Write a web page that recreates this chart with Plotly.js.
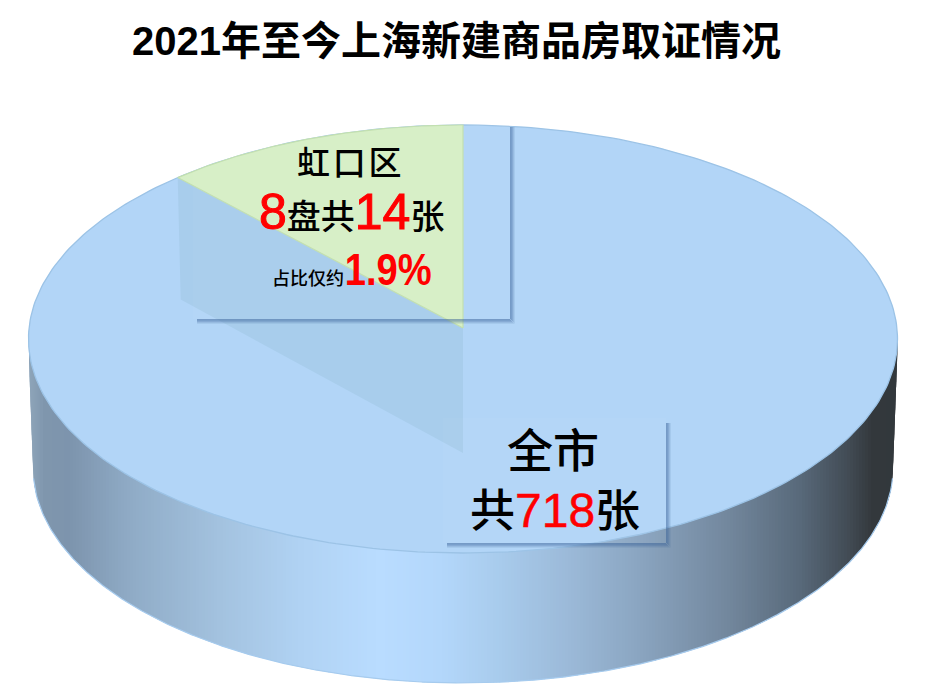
<!DOCTYPE html>
<html><head><meta charset="utf-8">
<script src="https://cdn.plot.ly/plotly-3.0.1.min.js"></script>
<style>html,body{margin:0;padding:0;background:#fff}</style></head>
<body><div id="chart" style="width:926px;height:700px"></div>
<script>
// ---- data ----
const chartTitle = '2021年至今上海新建商品房取证情况';
const sliceNames = ['虹口区', '全市其他'];
const sliceShares = [11.4, 88.6];        // share of the drawn disc, as pictured
const sliceColors = ['#d6efc6', '#b2d5f7'];
const wallStopX = [28, 45, 70, 130, 220, 300, 380, 440, 500, 570, 640, 726, 800, 850, 872, 898];
const wallStopColors = ['#8fa6ba', '#7f96ad', '#7d94ad', '#8fabc6', '#a3c2df', '#b0d2f3', '#b9dcff', '#b3d7fb', '#a8cbec', '#9bb9d8', '#8aa5c0', '#73889e', '#58697a', '#414a53', '#33383c', '#33383c'];

// ---- geometry of the drawing ----
const disc = {cx: 463, cy: 339, rx: 434.5, ry: 214, tipY: 328};
const base = {cx: 463, cy: 468, rx: 430, ry: 215};
const depth = 125;
const rad = d => d * Math.PI / 180;
const hex = c => [1, 3, 5].map(i => parseInt(c.substr(i, 2), 16));
function wallColor(x) {
  let i = 0;
  while (i < wallStopX.length - 2 && x > wallStopX[i + 1]) i++;
  const t = Math.min(1, Math.max(0, (x - wallStopX[i]) / (wallStopX[i + 1] - wallStopX[i])));
  const a = hex(wallStopColors[i]), b = hex(wallStopColors[i + 1]);
  return 'rgb(' + a.map((v, k) => Math.round(v + (b[k] - v) * t)).join(',') + ')';
}
function lowerY(e, x) {
  const u = (x - e.cx) / e.rx;
  return e.cy + e.ry * Math.sqrt(Math.max(0, 1 - u * u));
}
function wallBottom(x) {
  const dx = Math.abs(x - disc.cx);
  if (dx <= base.rx * 0.9995) return lowerY(base, x);
  return disc.cy + 10 + (disc.rx - dx) / (disc.rx - base.rx) * (base.cy - disc.cy - 10);
}
const traces = [];
const skip = {hoverinfo: 'skip', showlegend: false, mode: 'lines'};
// side wall: narrow strips following the gradient
for (let x = 29; x < 897;) {
  const step = (x < 40 || x > 884) ? 0.5 : 3;
  const x2 = Math.min(x + step + 0.8, 897.5);
  traces.push(Object.assign({type: 'scatter', x: [x, x2, x2, x], y: [lowerY(disc, x) - 4, lowerY(disc, x2) - 4, wallBottom(x2), wallBottom(x)],
    fill: 'toself', fillcolor: wallColor(x + step / 2), line: {width: 0}}, skip));
  x += step;
}
// wall bottom edge
const edgeX = [], edgeY = [];
for (let x = 33.5; x <= 892.5; x += 1) { edgeX.push(x); edgeY.push(wallBottom(x)); }
traces.push(Object.assign({type: 'scatter', x: edgeX, y: edgeY, line: {color: '#a6cbee', width: 1.2}}, skip));

// top of the disc, whole ellipse in the large slice colour
const total = sliceShares.reduce((a, b) => a + b, 0);
const sweep = sliceShares[0] / total * 360;
const onRim = d => [disc.cx - disc.rx * Math.sin(rad(d)), disc.cy - disc.ry * Math.cos(rad(d))];
const rimX = [], rimY = [];
for (let d = 0; d <= 360; d += 1) { const p = onRim(d); rimX.push(p[0]); rimY.push(p[1]); }
traces.push(Object.assign({type: 'scatter', name: sliceNames[1], x: rimX, y: rimY, fill: 'toself', fillcolor: sliceColors[1],
  line: {color: '#9cc3e6', width: 1.3}}, skip));

// shaded inner face below the slice
const P = onRim(sweep);
traces.push(Object.assign({type: 'scatter', x: [P[0], P[0] + 3, disc.cx, disc.cx, P[0]], y: [P[1], P[1] + 122, disc.tipY + depth, disc.tipY, P[1]],
  fill: 'toself', fillcolor: '#a8cdec', line: {width: 0}}, skip));

// small slice
const wx = [disc.cx], wy = [disc.tipY];
for (let d = 0; d <= sweep; d += 0.5) { const p = onRim(d); wx.push(p[0]); wy.push(p[1]); }
const pEnd = onRim(sweep); wx.push(pEnd[0], disc.cx); wy.push(pEnd[1], disc.tipY);
traces.push(Object.assign({type: 'scatter', name: sliceNames[0], x: wx, y: wy, fill: 'toself', fillcolor: sliceColors[0],
  line: {color: '#c2dfae', width: 1.2}}, skip));

// label boxes with soft shadows
const boxes = [{x0: 193, y0: 122, x1: 510, y1: 319}, {x0: 443, y0: 418, x1: 666, y1: 543}];
const shapes = [];
boxes.forEach(b => {
  shapes.push({type: 'rect', xref: 'x', yref: 'y', x0: b.x0, x1: b.x1, y0: b.y0, y1: b.y1, fillcolor: 'rgba(255,255,255,0.03)', line: {width: 0}});
  [[0.5, .5], [1.5, .46], [2.5, .36], [3.5, .22], [4.5, .1]].forEach(([o, a]) => {
    const c = 'rgba(55,95,150,' + a + ')';
    shapes.push({type: 'line', xref: 'x', yref: 'y', x0: b.x0 + 4, x1: b.x1 + o, y0: b.y1 + o, y1: b.y1 + o, line: {color: c, width: 1}});
    shapes.push({type: 'line', xref: 'x', yref: 'y', x0: b.x1 + o, x1: b.x1 + o, y0: b.y0 + 5, y1: b.y1 + o - 0.5, line: {color: c, width: 1}});
  });
});

const RED = '#ff0000';
const big = (t, s, extra) => '<span style="color:' + RED + ';font-size:' + s + 'px;' + (extra || '') + '">' + t + '</span>';
const FACE = '"Liberation Sans","Noto Sans CJK SC",sans-serif';
const note = (text, x, y, size) => ({text, x, y, xref: 'x', yref: 'y', xanchor: 'center', yanchor: 'middle', showarrow: false,
  font: {family: FACE, size, color: '#000', weight: 500}});
const stroke1 = 'stroke:#ff0000;stroke-width:1px';
const shareText = '1.9%';
const annotations = [
  note('虹\u200A口\u200A区', 349, 163, 33),
  note(big('8', 50, stroke1) + '盘共' + big('14', 50, stroke1) + '张', 351, 212, 34),
  note('占比仅约', 308, 279, 18),
  Object.assign(note(shareText, 388.5, 269, 45), {font: {family: FACE, size: 45, color: RED, weight: 700}}),
  note('全市', 553, 451, 46),
  note('共' + big('718', 48, 'stroke:#ff0000;stroke-width:0.5px') + '张', 555, 510, 45)
];

Plotly.newPlot('chart', traces, {
  width: 926, height: 700, margin: {l: 0, r: 0, t: 0, b: 0},
  paper_bgcolor: '#fff', plot_bgcolor: '#fff', showlegend: false,
  title: {text: '<b>' + chartTitle + '</b>', x: 456.5 / 926, y: 1 - 41 / 700, xanchor: 'center', yanchor: 'middle',
    font: {family: FACE, size: 40, color: '#000'}},
  xaxis: {range: [0, 926], visible: false, fixedrange: true},
  yaxis: {range: [700, 0], visible: false, fixedrange: true},
  shapes, annotations
}, {displayModeBar: false, staticPlot: true}).then(gd => {
  // the reference sets the percentage in a narrow face: fit the real text to its width
  gd.querySelectorAll('.annotation-text').forEach(t => {
    if (t.textContent === shareText) {
      t.setAttribute('textLength', 87);
      t.setAttribute('lengthAdjust', 'spacingAndGlyphs');
    }
  });
});
</script></body></html>
